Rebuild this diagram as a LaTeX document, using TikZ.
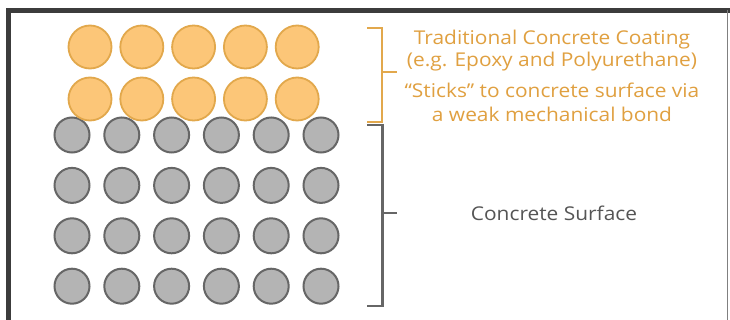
\documentclass[tikz,border=0pt]{standalone}
\usepackage{fontspec}
\setmainfont[FakeStretch=1.1]{Open Sans}
\definecolor{frame}{HTML}{3C3C3C}
\definecolor{orfill}{HTML}{FCC678}
\definecolor{ordraw}{HTML}{E2A84C}
\definecolor{orText}{HTML}{E0A040}
\definecolor{gfill}{HTML}{B4B4B4}
\definecolor{gdraw}{HTML}{666666}
\definecolor{gText}{HTML}{555555}
\tikzset{
  orball/.style={circle, fill=orfill, draw=ordraw, line width=1.8pt, minimum size=43pt, inner sep=0pt},
  grball/.style={circle, fill=gfill, draw=gdraw, line width=2pt, minimum size=35pt, inner sep=0pt},
  orlabel/.style={text=orText, font=\fontsize{19}{22}\selectfont, align=center, inner sep=0pt},
  grlabel/.style={text=gText, font=\fontsize{19}{22}\selectfont, inner sep=0pt},
  orbrace/.style={draw=ordraw, line width=2.2pt},
  grbrace/.style={draw=gdraw, line width=2.6pt},
}
\begin{document}
\begin{tikzpicture}[x=1pt,y=-1pt]
\useasboundingbox (0,0) rectangle (730,320);
\fill[white] (0,0) rectangle (730,320);
% frame
\draw[frame, line width=5pt] (8.5,330) -- (8.5,10.5) -- (735,10.5);
\draw[gray, line width=1.5pt] (727.5,10) -- (727.5,330);
% gray balls
\foreach \r in {0,...,3} {
  \foreach \c in {0,...,5} {
    \node[grball] (g\r\c) at ({72+49.8*\c},{135+50.4*\r}) {};
  }
}
% orange balls
\foreach \r in {0,1} {
  \foreach \c in {0,...,4} {
    \node[orball] (o\r\c) at ({90+51.8*\c},{47+52*\r}) {};
  }
}
% brackets
\coordinate (obt) at (367,28);
\coordinate (obb) at (367,122);
\coordinate (obm) at (397,72);
\draw[orbrace] (obt) -- (382,28) -- (382,122) -- (obb);
\draw[orbrace] (382,72) -- (obm);
\coordinate (gbt) at (367,125);
\coordinate (gbb) at (367,306);
\coordinate (gbm) at (397,213);
\draw[grbrace] (gbt) -- (382.5,125) -- (382.5,306) -- (gbb);
\draw[grbrace] (382.5,213) -- (gbm);
% labels
\node[orlabel] (t1) at (552,40) {Traditional Concrete Coating};
\node[orlabel] (t2) at (552,62) {(e.g. Epoxy and Polyurethane)};
\node[orlabel] (t3) at (552,90) {“Sticks” to concrete surface via};
\node[orlabel] (t4) at (552,114) {a weak mechanical bond};
\node[grlabel] (t5) at (554,213) {Concrete Surface};
\end{tikzpicture}
\end{document}
